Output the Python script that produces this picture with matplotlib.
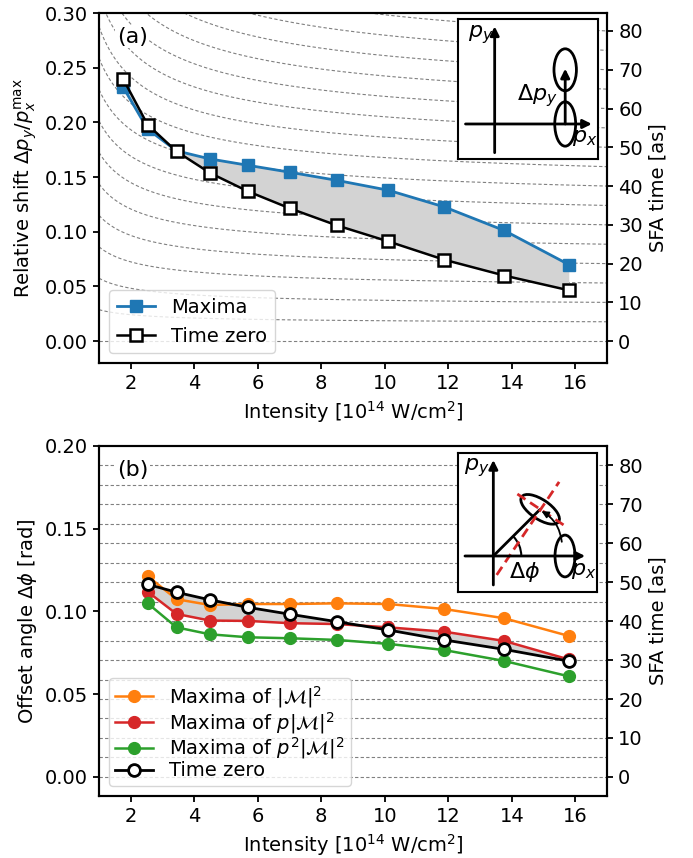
import numpy as np
import matplotlib
matplotlib.use("Agg")
import matplotlib.pyplot as plt
from matplotlib.patches import Ellipse, Arc

# ---------------- data ----------------
intensity = [1.755, 2.527, 3.440, 4.493, 5.687, 7.020, 8.494, 10.109, 11.864, 13.759, 15.795]
shift_maxima = [0.2325, 0.194, 0.174, 0.1666, 0.1608, 0.1544, 0.147, 0.138, 0.1228, 0.1012, 0.0700]
shift_time_zero = [0.240, 0.198, 0.1735, 0.1538, 0.137, 0.1213, 0.1058, 0.0912, 0.0745, 0.0600, 0.0465]

intensity_b = intensity[1:]
phi_M = [0.1214, 0.1074, 0.1039, 0.1045, 0.1045, 0.1049, 0.1045, 0.1015, 0.0959, 0.0852]
phi_pM = [0.1120, 0.0985, 0.0945, 0.0943, 0.0929, 0.0924, 0.0904, 0.0878, 0.0822, 0.0710]
phi_p2M = [0.1050, 0.0904, 0.0862, 0.0844, 0.0838, 0.0828, 0.0804, 0.0767, 0.0701, 0.0608]
phi_time_zero = [0.1164, 0.1116, 0.1070, 0.1025, 0.0983, 0.0938, 0.0888, 0.0828, 0.0771, 0.0700]

contour_times = [0, 5, 10, 15, 20, 25, 30, 35, 40, 45, 50, 55, 60, 65, 70, 75, 80, 85]  # as
xticks = [2, 4, 6, 8, 10, 12, 14, 16]
sfa_ticks = [0, 10, 20, 30, 40, 50, 60, 70, 80]

OMEGA = 0.0023546      # rad / as (800 nm)
K_A = 0.003545         # relative shift per as at the right edge
A_C, B_C, BETA = 0.861, 0.761, 0.6


def shift_of(I, t):
    return K_A * t * (A_C + B_C * np.power(I, -BETA))


FS = 14
plt.rcParams['font.family'] = ['DejaVu Sans']
plt.rcParams['font.size'] = FS
plt.rcParams['axes.linewidth'] = 1.5
plt.rcParams['xtick.major.width'] = 1.3
plt.rcParams['ytick.major.width'] = 1.3
plt.rcParams['xtick.major.size'] = 4.5
plt.rcParams['ytick.major.size'] = 4.5

fig = plt.figure(figsize=(6.93, 8.58), dpi=100)
ax1 = fig.add_axes([0.1429, 0.5769, 0.7331, 0.4079])
ax2 = fig.add_axes([0.1429, 0.0723, 0.7331, 0.4079])

XL = (1.0, 17.0)
dash = (0, (3, 2))

# ---------------- panel (a) ----------------
ax1.set_xlim(*XL)
ax1.set_ylim(-0.02, 0.30)
Igrid = np.linspace(1.0, 17.0, 400)
for t in contour_times:
    ax1.plot(Igrid, shift_of(Igrid, t), color='gray', ls=dash, lw=0.8, zorder=1)
ax1.fill_between(intensity, shift_maxima, shift_time_zero, color='lightgray', zorder=2, lw=0)
ax1.plot(intensity, shift_maxima, '-s', color='#1f77b4', lw=2, ms=8, zorder=3, label='Maxima')
ax1.plot(intensity, shift_time_zero, '-s', color='black', mfc='white', mec='black', mew=1.8,
         lw=1.8, ms=8, zorder=4, label='Time zero')
ax1.set_xticks(xticks)
ax1.set_yticks([0.0, 0.05, 0.10, 0.15, 0.20, 0.25, 0.30])
ax1.set_yticklabels(['%.2f' % v for v in [0.0, 0.05, 0.10, 0.15, 0.20, 0.25, 0.30]])
ax1.set_xlabel('Intensity [10$^{14}$ W/cm$^2$]')
ax1.set_ylabel(r'Relative shift $\Delta p_y/p_x^{\mathrm{max}}$')
ax1.text(0.035, 0.915, '(a)', transform=ax1.transAxes, fontsize=16, zorder=6,
         bbox=dict(facecolor='white', edgecolor='none', pad=1))
ax1.legend(loc='lower left', fontsize=FS, borderaxespad=0.5)
ax1r = ax1.twinx()
ax1r.set_ylim(-0.02 / K_A, 0.30 / K_A)
ax1r.set_yticks(sfa_ticks)
ax1r.set_ylabel('SFA time [as]')

# inset (a)
ia = ax1.inset_axes([0.707, 0.583, 0.276, 0.40])
ia.set_zorder(10)
ia.set_xlim(0, 1); ia.set_ylim(0, 1)
ia.set_xticks([]); ia.set_yticks([])
ap = dict(arrowstyle='-|>', lw=2, color='k', mutation_scale=13, shrinkA=0, shrinkB=0)
ia.annotate('', xy=(0.26, 0.947), xytext=(0.26, 0.045), arrowprops=ap)
ia.annotate('', xy=(0.953, 0.25), xytext=(0.052, 0.25), arrowprops=ap)
ia.add_patch(Ellipse((0.763, 0.25), 0.149, 0.317, fill=False, lw=2, ec='k'))
ia.add_patch(Ellipse((0.763, 0.637), 0.16, 0.30, fill=False, lw=2, ec='k'))
ia.annotate('', xy=(0.763, 0.645), xytext=(0.763, 0.25), arrowprops=ap)
ia.text(0.16, 0.89, '$p_y$', fontsize=16, ha='center', va='center')
ia.text(0.905, 0.15, '$p_x$', fontsize=16, ha='center', va='center')
ia.text(0.71, 0.45, r'$\Delta p_y$', fontsize=16, ha='right', va='center')

# ---------------- panel (b) ----------------
ax2.set_xlim(*XL)
ax2.set_ylim(-0.0115, 0.20)
for t in contour_times:
    if t * OMEGA < 0.20:
        ax2.axhline(t * OMEGA, color='gray', ls=dash, lw=0.8, zorder=1)
ax2.fill_between(intensity_b, phi_time_zero, phi_pM, color='lightgray', zorder=2, lw=0)
ax2.plot(intensity_b, phi_M, '-o', color='#ff7f0e', lw=1.8, ms=8.5, zorder=3,
         label=r'Maxima of $|\mathcal{M}|^2$')
ax2.plot(intensity_b, phi_pM, '-o', color='#d62728', lw=1.8, ms=8.5, zorder=3,
         label=r'Maxima of $p|\mathcal{M}|^2$')
ax2.plot(intensity_b, phi_p2M, '-o', color='#2ca02c', lw=1.8, ms=8.5, zorder=3,
         label=r'Maxima of $p^2|\mathcal{M}|^2$')
ax2.plot(intensity_b, phi_time_zero, '-o', color='black', mfc='white', mec='black', mew=2,
         lw=2, ms=8.5, zorder=4, label='Time zero')
ax2.set_xticks(xticks)
ax2.set_yticks([0.0, 0.05, 0.10, 0.15, 0.20])
ax2.set_yticklabels(['%.2f' % v for v in [0.0, 0.05, 0.10, 0.15, 0.20]])
ax2.set_xlabel('Intensity [10$^{14}$ W/cm$^2$]')
ax2.set_ylabel(r'Offset angle $\Delta\phi$ [rad]')
ax2.text(0.035, 0.915, '(b)', transform=ax2.transAxes, fontsize=16, zorder=6,
         bbox=dict(facecolor='white', edgecolor='none', pad=1))
ax2.legend(loc='lower left', fontsize=FS, borderaxespad=0.5, labelspacing=0.0,
           borderpad=0.3)
ax2r = ax2.twinx()
ax2r.set_ylim(-0.0115 / OMEGA, 0.20 / OMEGA)
ax2r.set_yticks(sfa_ticks)
ax2r.set_ylabel('SFA time [as]')

# inset (b)
ib = ax2.inset_axes([0.706, 0.583, 0.275, 0.398])
ib.set_zorder(10)
ib.set_xlim(0, 1); ib.set_ylim(0, 1)
ib.set_xticks([]); ib.set_yticks([])
ib.annotate('', xy=(0.255, 0.947), xytext=(0.255, 0.05), arrowprops=ap)
ib.annotate('', xy=(0.912, 0.258), xytext=(0.052, 0.258), arrowprops=ap)
ib.add_patch(Ellipse((0.768, 0.258), 0.143, 0.30, fill=False, lw=2, ec='k'))
ib.add_patch(Ellipse((0.59, 0.593), 0.32, 0.14, angle=-34, fill=False, lw=2, ec='k'))
ib.plot([0.255, 0.585], [0.258, 0.588], color='k', lw=2)
ib.add_patch(Arc((0.255, 0.258), 0.40, 0.40, theta1=0, theta2=45, lw=1.5, color='k'))
ib.plot([0.279, 0.726], [0.122, 0.79], color='#d62728', ls=(0, (3.5, 2)), lw=2)
ib.plot([0.427, 0.768], [0.703, 0.474], color='#d62728', ls=(0, (3.5, 2)), lw=2)
ib.annotate('', xy=(0.60, 0.58), xytext=(0.745, 0.36),
            arrowprops=dict(arrowstyle='-|>', lw=1.3, color='k', mutation_scale=10,
                            shrinkA=0, shrinkB=0, connectionstyle='arc3,rad=0.25'))
ib.text(0.135, 0.89, '$p_y$', fontsize=16, ha='center', va='center')
ib.text(0.905, 0.15, '$p_x$', fontsize=16, ha='center', va='center')
ib.text(0.48, 0.14, r'$\Delta\phi$', fontsize=16, ha='center', va='center')

fig.savefig('out.png', dpi=100)
